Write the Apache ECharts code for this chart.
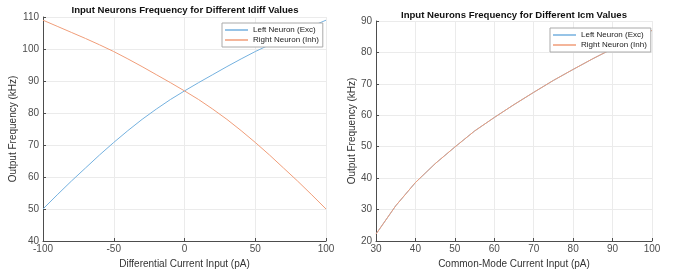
<!DOCTYPE html>
<html>
<head>
<meta charset="utf-8">
<script src="https://cdn.jsdelivr.net/npm/echarts@6/dist/echarts.min.js"></script>
<style>html,body{margin:0;padding:0;background:#fff}#c{width:674px;height:271px}</style>
</head>
<body>
<div id="c"></div>
<script>
// Left chart: differential current
const idiff = [-100,-90,-80,-70,-60,-50,-40,-30,-20,-10,0,10,20,30,40,50,60,70,80,90,100];
const idiffExc = [50,54.4,58.7,62.8,66.9,70.8,74.5,78.0,81.2,84.2,86.9,89.5,92.0,94.5,96.9,99.2,101.3,103.3,105.2,107.1,109.0];
const idiffInh = [109.0,107.1,105.2,103.3,101.3,99.2,96.9,94.5,92.0,89.5,86.9,84.2,81.2,78.0,74.5,70.8,66.9,62.8,58.7,54.4,50];
// Right chart: common-mode current
const icm = [30,35,40,45,50,55,60,65,70,75,80,85,90,95,100];
const icmExc = [22.2,31.2,38.6,44.6,49.9,55.0,59.3,63.4,67.3,71.1,74.6,78.0,81.2,84.2,87.0];
const icmInh = [22.2,31.2,38.6,44.6,49.9,55.0,59.3,63.4,67.3,71.1,74.6,78.0,81.2,84.2,87.0];

const titles = ['Input Neurons Frequency for Different Idiff Values','Input Neurons Frequency for Different Icm Values'];
const xNames = ['Differential Current Input (pA)','Common-Mode Current Input (pA)'];
const yName = 'Output Frequency (kHz)';
const seriesNames = ['Left Neuron (Exc)','Right Neuron (Inh)'];

const FONT = 'Liberation Sans, Arial, sans-serif';
const BLUE = '#74b1df';
const ORANGE = '#f09d79';

const pairs = (xs, ys) => xs.map((x, i) => [x, ys[i]]);

function xAxis(gi, min, max, interval, name) {
  return {
    type: 'value', gridIndex: gi, min, max, interval,
    name, nameLocation: 'middle', nameGap: 18,
    nameTextStyle: {fontFamily: FONT, fontSize: 10, color: '#333'},
    axisLine: {show: true, onZero: false, lineStyle: {color: '#4d4d4d', width: 1}},
    axisTick: {show: true, inside: true, length: 3, lineStyle: {color: '#4d4d4d'}},
    axisLabel: {fontFamily: FONT, fontSize: 10, color: '#4d4d4d', margin: 3},
    splitLine: {show: true, lineStyle: {color: '#ebebeb', width: 1}}
  };
}
function yAxis(gi, min, max, interval, gap) {
  return {
    type: 'value', gridIndex: gi, min, max, interval,
    name: yName, nameLocation: 'middle', nameGap: gap,
    nameTextStyle: {fontFamily: FONT, fontSize: 10, color: '#333'},
    axisLine: {show: true, onZero: false, lineStyle: {color: '#4d4d4d', width: 1}},
    axisTick: {show: true, inside: true, length: 3, lineStyle: {color: '#4d4d4d'}},
    axisLabel: {fontFamily: FONT, fontSize: 10, color: '#4d4d4d', margin: 4},
    splitLine: {show: true, lineStyle: {color: '#ebebeb', width: 1}}
  };
}
function legend(left, top) {
  return {
    orient: 'vertical', left, top,
    data: seriesNames,
    icon: 'rect', itemWidth: 23, itemHeight: 1.5, itemGap: 2,
    backgroundColor: '#fff', borderColor: '#aaa', borderWidth: 1,
    padding: [3, 4, 3, 3],
    textStyle: {fontFamily: FONT, fontSize: 8, color: '#222'},
    selectedMode: false
  };
}
function line(name, data, xi, color) {
  return {
    type: 'line', name, xAxisIndex: xi, yAxisIndex: xi, data,
    showSymbol: false, symbol: 'none', smooth: false,
    lineStyle: {color, width: 1}, itemStyle: {color},
    animation: false
  };
}

const chart = echarts.init(document.getElementById('c'));
chart.setOption({
  animation: false,
  grid: [
    {left: 43, right: 348, top: 17, bottom: 30, containLabel: false, outerBoundsMode: 'none'},
    {left: 376, right: 22, top: 21, bottom: 30, containLabel: false, outerBoundsMode: 'none'}
  ],
  xAxis: [xAxis(0, -100, 100, 50, xNames[0]), xAxis(1, 30, 100, 10, xNames[1])],
  yAxis: [yAxis(0, 40, 110, 10, 7), yAxis(1, 20, 90, 10, 12)],
  legend: [legend(222, 23), legend(550, 28)],
  graphic: [
    {type: 'text', x: 185, y: 5, style: {text: titles[0], fontFamily: FONT, fontSize: 9.6, fontWeight: 'bold', fill: '#111', textAlign: 'center'}},
    {type: 'text', x: 514, y: 10, style: {text: titles[1], fontFamily: FONT, fontSize: 9.6, fontWeight: 'bold', fill: '#111', textAlign: 'center'}}
  ],
  series: [
    line(seriesNames[0], pairs(idiff, idiffExc), 0, BLUE),
    line(seriesNames[1], pairs(idiff, idiffInh), 0, ORANGE),
    line(seriesNames[0], pairs(icm, icmExc), 1, BLUE),
    line(seriesNames[1], pairs(icm, icmInh), 1, ORANGE)
  ]
});
</script>
</body>
</html>
